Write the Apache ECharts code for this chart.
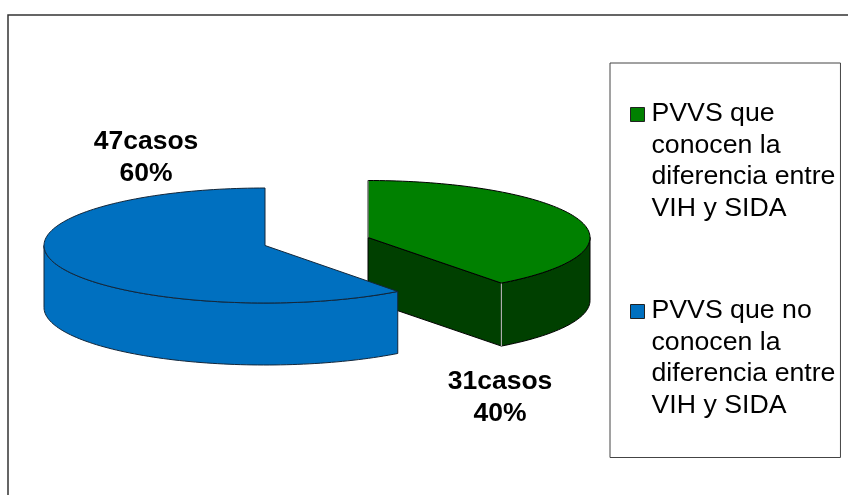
<!DOCTYPE html>
<html>
<head>
<meta charset="utf-8">
<style>html,body{margin:0;padding:0;background:#fff}#c{width:848px;height:495px}</style>
<script src="https://cdn.jsdelivr.net/npm/echarts@6/dist/echarts.min.js"></script>
</head>
<body>
<div id="c"></div>
<script>
var categories = [
  'PVVS que\nconocen la\ndiferencia entre\nVIH y SIDA',
  'PVVS que no\nconocen la\ndiferencia entre\nVIH y SIDA'
];
var cases = [31, 47];
var percents = [40, 60];
var topColors = ['#008000', '#0070C0'];
var sideColors = ['#004000', '#0070C0'];

// layout of each exploded slice
var slicesLayout = [
  { cx: 368, cy: 237.5, rx: 222, ry: 57, depth: 63, labelX: 500, labelY: 398 },
  { cx: 265, cy: 245.5, rx: 221, ry: 57.5, depth: 62, labelX: 146, labelY: 158 }
];
var total = cases.reduce(function (a, b) { return a + b; }, 0);

function pt(l, deg, dy) {
  var a = deg * Math.PI / 180;
  return [l.cx + l.rx * Math.sin(a), l.cy - l.ry * Math.cos(a) + (dy || 0)];
}
function arc(l, from, to, dy) {
  var out = [], n = Math.max(2, Math.ceil(Math.abs(to - from) / 1.5));
  for (var i = 0; i <= n; i++) out.push(pt(l, from + (to - from) * i / n, dy));
  return out;
}
function renderSlice(idx) {
  return function (params, api) {
    var v = api.value(0);
    var l = slicesLayout[idx];
    var before = 0;
    for (var i = 0; i < idx; i++) before += cases[i];
    var start = before / total * 360, end = (before + v) / total * 360;
    var line = idx === 0 ? '#000' : '#12263a';
    var children = [];
    var wallFrom, wallTo;
    if (idx === 0) { wallFrom = 90; wallTo = end; } else { wallFrom = start; wallTo = 270; }
    var wall = arc(l, wallFrom, wallTo, 0).concat(arc(l, wallTo, wallFrom, l.depth));
    children.push({ type: 'polygon', shape: { points: wall },
      style: { fill: sideColors[idx], stroke: line, lineWidth: 1 } });
    if (idx === 0) {
      var corner = pt(l, end), c = [l.cx, l.cy];
      children.push({ type: 'polygon',
        shape: { points: [c, corner, [corner[0], corner[1] + l.depth], [c[0], c[1] + l.depth]] },
        style: { fill: sideColors[idx], stroke: line, lineWidth: 1 } });
      children.push({ type: 'line',
        shape: { x1: corner[0], y1: corner[1], x2: corner[0], y2: corner[1] + l.depth },
        style: { stroke: '#c8c8c8', lineWidth: 1 } });
    }
    var top = [[l.cx, l.cy]].concat(arc(l, start, end, 0));
    children.push({ type: 'polygon', shape: { points: top },
      style: { fill: topColors[idx], stroke: line, lineWidth: 1, lineJoin: 'round' } });
    if (idx === 0) {
      children.push({ type: 'line',
        shape: { x1: l.cx, y1: l.cy - l.ry, x2: l.cx, y2: l.cy },
        style: { stroke: '#a8a8a8', lineWidth: 1 } });
    }
    children.push({ type: 'text', style: {
      text: v + 'casos\n' + Math.round(v / total * 100) + '%',
      x: l.labelX, y: l.labelY, align: 'center', verticalAlign: 'middle',
      font: 'bold 26.5px "Liberation Sans", Arial, sans-serif', lineHeight: 32, fill: '#000'
    } });
    return { type: 'group', children: children };
  };
}

var chart = echarts.init(document.getElementById('c'), null, { renderer: 'canvas' });
chart.setOption({
  animation: false,
  graphic: [{
    type: 'polyline', silent: true, z: -1,
    shape: { points: [[8, 495], [8, 15], [848, 15]] },
    style: { stroke: '#333', lineWidth: 1.5, fill: null }
  }],
  legend: {
    orient: 'vertical', left: 610, top: 63,
    padding: [34.5, 5, 36, 20],
    borderColor: '#444', borderWidth: 1,
    itemWidth: 16, itemHeight: 126, itemGap: 70,
    selectedMode: false,
    icon: 'path://M0 0L0 0M0 9.5H14V23.5H0ZM16 126L16 126',
    itemStyle: { borderColor: '#222', borderWidth: 1 },
    textStyle: { fontFamily: '"Liberation Sans", Arial, sans-serif', fontSize: 26.7, lineHeight: 31.5, color: '#000' },
    data: categories
  },
  series: categories.map(function (name, i) {
    return {
      type: 'custom', name: name, coordinateSystem: 'none',
      itemStyle: { color: topColors[i] },
      renderItem: renderSlice(i),
      data: [[cases[i], percents[i]]],
      z: i + 2, silent: true
    };
  })
});
</script>
</body>
</html>
